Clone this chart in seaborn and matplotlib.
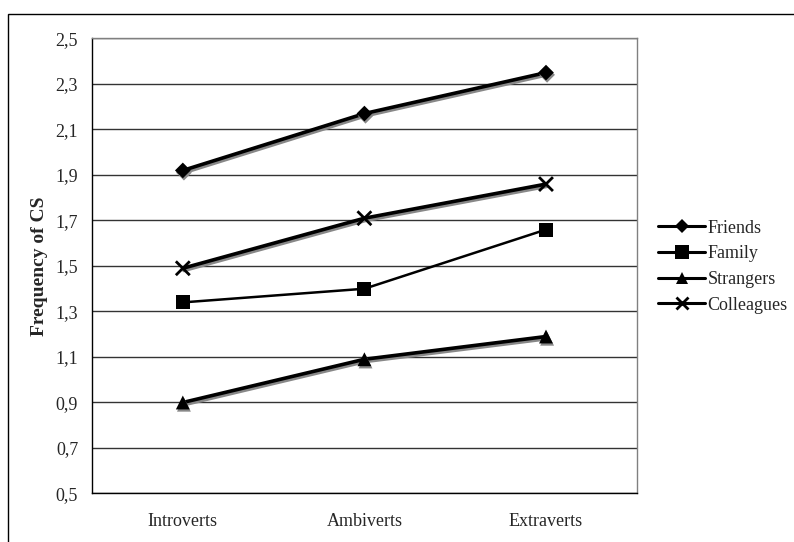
import pandas as pd
import numpy as np
import matplotlib
matplotlib.use('Agg')
import matplotlib.pyplot as plt
import matplotlib.patheffects as pe
from matplotlib.lines import Line2D
from matplotlib.patches import Rectangle
import seaborn as sns

groups = ['Introverts', 'Ambiverts', 'Extraverts']
friends = [1.92, 2.17, 2.35]
family = [1.34, 1.40, 1.66]
strangers = [0.90, 1.09, 1.19]
colleagues = [1.49, 1.71, 1.86]
series_names = ['Friends', 'Family', 'Strangers', 'Colleagues']
y_ticks = [0.5, 0.7, 0.9, 1.1, 1.3, 1.5, 1.7, 1.9, 2.1, 2.3, 2.5]

df = pd.DataFrame({
    'group': groups * 4,
    'pos': list(range(len(groups))) * 4,
    'value': friends + family + strangers + colleagues,
    'series': [s for s in series_names for _ in groups],
})

sns.set_style('white')
plt.rcParams['font.family'] = ['Liberation Serif', 'DejaVu Serif']

markers = {'Friends': 'D', 'Family': 's', 'Strangers': '^', 'Colleagues': 'x'}
msize = {'Friends': 8, 'Family': 10.5, 'Strangers': 10, 'Colleagues': 10}
lwidth = {'Friends': 2.6, 'Family': 1.8, 'Strangers': 2.6, 'Colleagues': 2.6}
shadow = {'Friends': True, 'Family': False, 'Strangers': True, 'Colleagues': True}

fig = plt.figure(figsize=(7.94, 5.42), dpi=100)
ax = fig.add_axes([0.1159, 0.0895, 0.6861, 0.8395])

for name in series_names:
    sub = df[df['series'] == name]
    sns.lineplot(data=sub, x='pos', y='value', ax=ax, color='black',
                 linewidth=lwidth[name], legend=False, zorder=3)
    line = ax.lines[-1]
    if shadow[name]:
        line.set_path_effects([pe.SimpleLineShadow(offset=(0.8, -1.6), shadow_color='#888888', alpha=1),
                               pe.Normal()])
    mk = markers[name]
    sns.scatterplot(data=sub, x='pos', y='value', ax=ax, color='black',
                    marker=mk, s=msize[name] ** 2, linewidth=2 if mk == 'x' else 0,
                    edgecolor='black', legend=False, zorder=4)
    if shadow[name]:
        ax.collections[-1].set_path_effects([pe.SimplePatchShadow(offset=(0.8, -1.6), shadow_rgbFace='#888888', alpha=1),
                                             pe.Normal()])

ax.set_xlim(-0.5, 2.5)
ax.set_ylim(0.5, 2.5)
ax.set_yticks(y_ticks)
ax.set_yticklabels([f'{v:.1f}'.replace('.', ',') for v in y_ticks], fontsize=13)
ax.set_xticks(range(len(groups)))
ax.set_xticklabels(groups, fontsize=13)
ax.set_xticks([-0.5, 0.5, 1.5, 2.5], minor=True)
ax.tick_params(axis='x', which='major', length=0, pad=14)
ax.tick_params(axis='x', which='minor', length=5, direction='out', width=1, color='black')
ax.tick_params(axis='y', which='major', length=5, direction='out', width=1, color='black', pad=5)
ax.yaxis.grid(True, color='#333333', linewidth=1.0)
ax.set_axisbelow(True)
ax.set_xlabel('')
ax.set_ylabel('Frequency of CS', fontsize=14, fontweight='bold', labelpad=5)

for side in ['left', 'bottom']:
    ax.spines[side].set_color('black')
    ax.spines[side].set_linewidth(1)
for side in ['top', 'right']:
    ax.spines[side].set_color('#808080')
    ax.spines[side].set_linewidth(1)

handles = []
for name in series_names:
    mk = markers[name]
    handles.append(Line2D([0], [0], color='black', linewidth=2.2, marker=mk,
                          markersize=msize[name] * 0.9, markeredgewidth=2 if mk == 'x' else 0))
fig.legend(handles, series_names, loc='center left', bbox_to_anchor=(0.829, 0.508),
           frameon=False, fontsize=13, handlelength=2.6, handletextpad=0.12,
           labelspacing=0.48, borderaxespad=0, borderpad=0)

fig.patches.append(Rectangle((0.010, -0.1), 1.2, 1.074, transform=fig.transFigure,
                             fill=False, edgecolor='black', linewidth=1))

fig.savefig('out.png', dpi=100)
